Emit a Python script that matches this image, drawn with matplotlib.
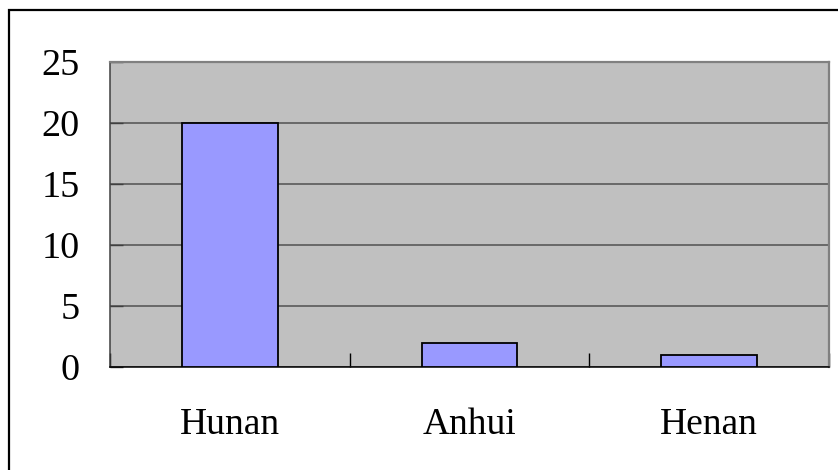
import matplotlib
matplotlib.use('Agg')
import matplotlib.pyplot as plt
from matplotlib.patches import Rectangle
import numpy as np

# Chart data
provinces = ['Hunan', 'Anhui', 'Henan']
counts = [20, 2, 1]
y_ticks = [0, 5, 10, 15, 20, 25]

plt.rcParams['font.family'] = ['Liberation Serif', 'DejaVu Serif']

fig = plt.figure(figsize=(8.38, 4.70), dpi=100)
ax = fig.add_axes([110 / 838, 103 / 470, 719 / 838, 305 / 470])

# Outer chart border (only left and top visible in the crop)
fig.patches.append(Rectangle((9 / 838, -0.1), 1.2, (460 / 470) + 0.1,
                             transform=fig.transFigure, fill=False,
                             edgecolor='black', linewidth=1.6, zorder=0))

x = np.arange(len(provinces))
ax.set_facecolor('#C0C0C0')
ax.bar(x, counts, width=0.4, color='#9999FF', edgecolor='black',
       linewidth=1.3, zorder=3)

ax.set_xlim(-0.5, len(provinces) - 0.5)
ax.set_ylim(0, 25)
ax.set_yticks(y_ticks)
ax.set_yticklabels([str(v) for v in y_ticks], fontsize=27.5)
ax.yaxis.grid(True, color='#505050', linewidth=1.1, zorder=1)
ax.set_axisbelow(True)

# category labels centred, ticks at category boundaries
ax.set_xticks(x)
ax.set_xticklabels(provinces, fontsize=27)
ax.set_xticks(np.arange(len(provinces) + 1) - 0.5, minor=True)
ax.tick_params(axis='x', which='major', length=0, pad=29)
ax.tick_params(axis='x', which='minor', direction='in', length=10,
               width=1, color='black')
ax.tick_params(axis='y', direction='in', length=9, width=1,
               color='#404040', pad=22)

for side in ['top', 'right']:
    ax.spines[side].set_color('#808080')
    ax.spines[side].set_linewidth(1.6)
ax.spines['left'].set_color('#404040')
ax.spines['left'].set_linewidth(1.1)
ax.spines['bottom'].set_color('black')
ax.spines['bottom'].set_linewidth(1.1)

fig.savefig('out.png', dpi=100)
